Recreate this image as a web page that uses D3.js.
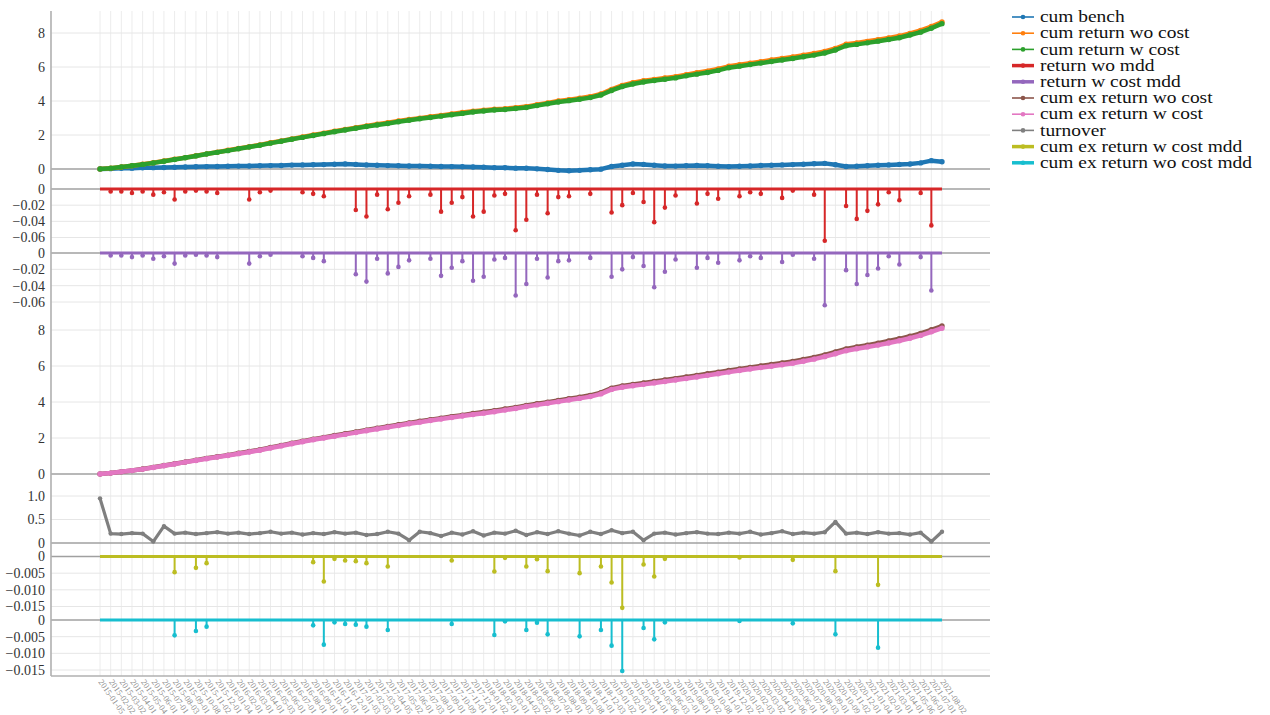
<!DOCTYPE html>
<html>
<head>
<meta charset="utf-8">
<script src="https://cdn.jsdelivr.net/npm/d3@7"></script>
<style>
  body { margin: 0; background: #fff; }
  text { font-family: "Liberation Serif", "DejaVu Serif", serif; }
</style>
</head>
<body>
<script>
const width = 1270;
const height = 715;

// x categories (one per grid line)
const dates = ("2015-01-05 2015-02-02 2015-03-02 2015-04-01 2015-05-04 2015-06-01 2015-07-01 2015-08-03 2015-09-01 2015-10-08 2015-11-02 2015-12-01 " +
  "2016-01-04 2016-02-01 2016-03-01 2016-04-01 2016-05-03 2016-06-01 2016-07-01 2016-08-01 2016-09-01 2016-10-10 2016-11-01 2016-12-01 " +
  "2017-01-03 2017-02-03 2017-03-01 2017-04-05 2017-05-02 2017-06-01 2017-07-03 2017-08-01 2017-09-01 2017-10-09 2017-11-01 2017-12-01 " +
  "2018-01-02 2018-02-01 2018-03-01 2018-04-02 2018-05-02 2018-06-01 2018-07-02 2018-08-01 2018-09-03 2018-10-08 2018-11-01 2018-12-03 " +
  "2019-01-02 2019-02-01 2019-03-01 2019-04-01 2019-05-06 2019-06-03 2019-07-01 2019-08-01 2019-09-02 2019-10-08 2019-11-01 2019-12-02 " +
  "2020-01-02 2020-02-03 2020-03-02 2020-04-01 2020-05-06 2020-06-01 2020-07-01 2020-08-03 2020-09-01 2020-10-09 2020-11-02 2020-12-01 " +
  "2021-01-04 2021-02-01 2021-03-01 2021-04-01 2021-05-06 2021-06-01 2021-07-01 2021-08-02").split(" ");

const cumBench = [0, 0.02, 0.04, 0.05, 0.07, 0.08, 0.09, 0.1, 0.12, 0.13,
  0.14, 0.15, 0.16, 0.17, 0.18, 0.19, 0.2, 0.21, 0.23, 0.24,
  0.25, 0.26, 0.28, 0.3, 0.27, 0.24, 0.22, 0.2, 0.19, 0.18,
  0.17, 0.16, 0.15, 0.14, 0.13, 0.12, 0.1, 0.08, 0.07, 0.05,
  0.04, 0.01, -0.03, -0.08, -0.1, -0.08, -0.04, -0.01, 0.15, 0.22,
  0.29, 0.27, 0.22, 0.18, 0.17, 0.19, 0.21, 0.19, 0.16, 0.14,
  0.16, 0.18, 0.21, 0.22, 0.24, 0.26, 0.28, 0.31, 0.33, 0.25,
  0.15, 0.16, 0.19, 0.22, 0.24, 0.27, 0.29, 0.36, 0.49, 0.43];

const cumReturnWoCost = [0, 0.05, 0.12, 0.19, 0.28, 0.37, 0.47, 0.57, 0.67, 0.78,
  0.89, 0.99, 1.1, 1.21, 1.31, 1.42, 1.54, 1.65, 1.77, 1.88,
  2.0, 2.11, 2.22, 2.32, 2.43, 2.53, 2.63, 2.72, 2.82, 2.91,
  2.99, 3.07, 3.15, 3.24, 3.32, 3.4, 3.46, 3.52, 3.55, 3.61,
  3.67, 3.78, 3.89, 4.0, 4.08, 4.16, 4.26, 4.41, 4.68, 4.92,
  5.07, 5.19, 5.27, 5.35, 5.43, 5.55, 5.66, 5.76, 5.88, 6.04,
  6.13, 6.22, 6.31, 6.41, 6.5, 6.59, 6.69, 6.79, 6.91, 7.09,
  7.34, 7.42, 7.51, 7.61, 7.71, 7.82, 7.98, 8.15, 8.38, 8.65];

const cumReturnWCost = [0, 0.05, 0.12, 0.19, 0.27, 0.36, 0.46, 0.56, 0.66, 0.77,
  0.88, 0.98, 1.08, 1.19, 1.29, 1.4, 1.52, 1.63, 1.75, 1.86,
  1.97, 2.08, 2.19, 2.29, 2.4, 2.5, 2.59, 2.68, 2.78, 2.87,
  2.95, 3.03, 3.11, 3.19, 3.27, 3.35, 3.41, 3.47, 3.5, 3.56,
  3.62, 3.73, 3.84, 3.94, 4.02, 4.1, 4.2, 4.35, 4.62, 4.85,
  5.0, 5.12, 5.2, 5.28, 5.36, 5.48, 5.58, 5.68, 5.8, 5.96,
  6.05, 6.14, 6.23, 6.32, 6.41, 6.5, 6.6, 6.7, 6.82, 7.0,
  7.25, 7.33, 7.42, 7.52, 7.62, 7.72, 7.88, 8.05, 8.28, 8.55];

const cumExReturnWoCost = [0, 0.05, 0.12, 0.19, 0.28, 0.37, 0.47, 0.57, 0.67, 0.77,
  0.87, 0.96, 1.05, 1.15, 1.25, 1.35, 1.47, 1.59, 1.71, 1.82,
  1.93, 2.03, 2.14, 2.24, 2.34, 2.44, 2.54, 2.64, 2.74, 2.84,
  2.93, 3.02, 3.1, 3.19, 3.27, 3.36, 3.44, 3.52, 3.61, 3.7,
  3.81, 3.9, 3.99, 4.08, 4.18, 4.27, 4.37, 4.52, 4.77, 4.89,
  4.98, 5.06, 5.14, 5.22, 5.3, 5.39, 5.48, 5.57, 5.66, 5.75,
  5.84, 5.92, 6.0, 6.09, 6.17, 6.25, 6.36, 6.48, 6.62, 6.78,
  6.95, 7.06, 7.16, 7.27, 7.39, 7.51, 7.65, 7.81, 8.01, 8.22];

const cumExReturnWCost = [0, 0.05, 0.12, 0.19, 0.27, 0.36, 0.46, 0.56, 0.66, 0.75,
  0.85, 0.94, 1.03, 1.13, 1.22, 1.32, 1.44, 1.56, 1.68, 1.79,
  1.9, 2.0, 2.1, 2.2, 2.3, 2.4, 2.5, 2.6, 2.69, 2.79,
  2.88, 2.97, 3.05, 3.14, 3.22, 3.3, 3.38, 3.46, 3.55, 3.64,
  3.75, 3.84, 3.93, 4.02, 4.11, 4.2, 4.3, 4.45, 4.7, 4.82,
  4.9, 4.98, 5.06, 5.14, 5.22, 5.3, 5.39, 5.48, 5.57, 5.66,
  5.75, 5.83, 5.91, 5.99, 6.07, 6.15, 6.26, 6.38, 6.52, 6.68,
  6.85, 6.96, 7.06, 7.16, 7.28, 7.4, 7.54, 7.7, 7.9, 8.1];

const turnover = [0.95, 0.2, 0.19, 0.21, 0.2, 0.03, 0.36, 0.2, 0.22, 0.19,
  0.21, 0.23, 0.2, 0.22, 0.19, 0.21, 0.24, 0.2, 0.22, 0.18,
  0.21, 0.19, 0.23, 0.2, 0.22, 0.17, 0.19, 0.24, 0.2, 0.06,
  0.24, 0.21, 0.15, 0.22, 0.18, 0.25, 0.16, 0.22, 0.2, 0.26,
  0.17, 0.23, 0.19, 0.25, 0.2, 0.16, 0.24, 0.19, 0.27, 0.21,
  0.24, 0.06, 0.2, 0.22, 0.18, 0.21, 0.23, 0.2, 0.19, 0.22,
  0.2, 0.24, 0.18, 0.21, 0.25, 0.19, 0.22, 0.2, 0.23, 0.45,
  0.2, 0.22, 0.19, 0.23, 0.2, 0.21, 0.18, 0.22, 0.03, 0.24];

// drawdown series: index into dates, value (zero everywhere else)
const returnWoMddIdx = [1, 2, 3, 4, 5, 6, 7, 8, 9, 10, 11, 14, 15, 16, 19, 20, 21, 24, 25, 26, 27, 28, 29, 31, 32, 33, 34, 35, 36, 37, 38, 39, 40, 41, 42, 43, 44, 46, 48, 49, 50, 51, 52, 53, 54, 56, 57, 58, 60, 61, 62, 64, 65, 67, 68, 70, 71, 72, 73, 74, 75, 77, 78];
const returnWoMddVal = [-0.003, -0.003, -0.005, -0.003, -0.007, -0.004, -0.013, -0.003, -0.002, -0.003, -0.005, -0.013, -0.004, -0.002, -0.004, -0.006, -0.009, -0.026, -0.034, -0.007, -0.025, -0.017, -0.009, -0.007, -0.028, -0.017, -0.01, -0.034, -0.028, -0.008, -0.006, -0.051, -0.038, -0.007, -0.03, -0.01, -0.009, -0.006, -0.029, -0.02, -0.005, -0.016, -0.041, -0.023, -0.008, -0.018, -0.006, -0.012, -0.009, -0.004, -0.006, -0.011, -0.002, -0.007, -0.064, -0.021, -0.037, -0.027, -0.019, -0.004, -0.014, -0.005, -0.045];

const returnWCostMddIdx = [1, 2, 3, 4, 5, 6, 7, 8, 9, 10, 11, 14, 15, 16, 19, 20, 21, 24, 25, 26, 27, 28, 29, 31, 32, 33, 34, 35, 36, 37, 38, 39, 40, 41, 42, 43, 44, 46, 48, 49, 50, 51, 52, 53, 54, 56, 57, 58, 60, 61, 62, 64, 65, 67, 68, 70, 71, 72, 73, 74, 75, 77, 78];
const returnWCostMddVal = [-0.003, -0.003, -0.005, -0.003, -0.007, -0.004, -0.013, -0.003, -0.002, -0.003, -0.005, -0.013, -0.004, -0.002, -0.004, -0.006, -0.01, -0.026, -0.035, -0.007, -0.025, -0.017, -0.009, -0.007, -0.028, -0.018, -0.01, -0.034, -0.029, -0.008, -0.006, -0.052, -0.038, -0.007, -0.03, -0.01, -0.009, -0.006, -0.029, -0.02, -0.005, -0.016, -0.042, -0.023, -0.008, -0.018, -0.006, -0.012, -0.009, -0.004, -0.006, -0.011, -0.002, -0.007, -0.064, -0.021, -0.038, -0.027, -0.019, -0.004, -0.014, -0.005, -0.046];

const cumExWCostMddIdx = [7, 9, 10, 20, 21, 22, 23, 24, 25, 27, 33, 37, 38, 40, 41, 42, 45, 47, 48, 49, 51, 52, 53, 60, 65, 69, 73];
const cumExWCostMddVal = [-0.0047, -0.0034, -0.002, -0.0017, -0.0075, -0.0007, -0.0012, -0.0014, -0.002, -0.003, -0.0012, -0.0045, -0.0004, -0.003, -0.0008, -0.0044, -0.005, -0.003, -0.0078, -0.0154, -0.0024, -0.006, -0.0007, -0.0003, -0.001, -0.0044, -0.0085];

const cumExWoCostMddIdx = [7, 9, 10, 20, 21, 22, 23, 24, 25, 27, 33, 37, 38, 40, 41, 42, 45, 47, 48, 49, 51, 52, 53, 60, 65, 69, 73];
const cumExWoCostMddVal = [-0.0046, -0.0033, -0.002, -0.0016, -0.0074, -0.0007, -0.0012, -0.0014, -0.002, -0.003, -0.0012, -0.0045, -0.0004, -0.003, -0.0008, -0.0043, -0.0049, -0.003, -0.0077, -0.0153, -0.0024, -0.0058, -0.0007, -0.0003, -0.001, -0.0043, -0.0083];

const legendNames = ["cum bench", "cum return wo cost", "cum return w cost", "return wo mdd", "return w cost mdd",
  "cum ex return wo cost", "cum ex return w cost", "turnover", "cum ex return w cost mdd", "cum ex return wo cost mdd"];
const colors = d3.schemeCategory10;

// layout
const axisX = 51;
const gridRight = 990;
const gridTop = 11;
const gridBottom = 676;

const svg = d3.select("body").append("svg")
  .attr("width", width)
  .attr("height", height)
  .attr("font-family", "'Liberation Serif', 'DejaVu Serif', serif");

const x = d3.scalePoint().domain(dates).range([100, 942]);

const fmt0 = (f) => (d) => d === 0 ? "0" : d3.format(f)(d);

const panels = [
  { domain: [0, 8], range: [169, 33], ticks: [0, 2, 4, 6, 8], fmt: fmt0("d") },
  { domain: [0, -0.06], range: [189, 237.5], ticks: [0, -0.02, -0.04, -0.06], fmt: fmt0(".2f") },
  { domain: [0, -0.06], range: [253, 302], ticks: [0, -0.02, -0.04, -0.06], fmt: fmt0(".2f") },
  { domain: [0, 8], range: [474, 330], ticks: [0, 2, 4, 6, 8], fmt: fmt0("d") },
  { domain: [0, 1], range: [543, 496], ticks: [0, 0.5, 1], fmt: fmt0(".1f") },
  { domain: [0, -0.015], range: [556.5, 606.5], ticks: [0, -0.005, -0.01, -0.015], fmt: fmt0(".3f") },
  { domain: [0, -0.015], range: [620, 670], ticks: [0, -0.005, -0.01, -0.015], fmt: fmt0(".3f") }
];
panels.forEach((p) => { p.y = d3.scaleLinear().domain(p.domain).range(p.range); });

// vertical grid
svg.append("g").selectAll("line")
  .data(dates)
  .join("line")
    .attr("x1", (d) => x(d)).attr("x2", (d) => x(d))
    .attr("y1", gridTop).attr("y2", gridBottom)
    .attr("stroke", "#ececec");

// horizontal grid, zero lines and tick labels per panel
panels.forEach((p) => {
  const g = svg.append("g");
  g.selectAll("line")
    .data(p.ticks)
    .join("line")
      .attr("x1", axisX).attr("x2", gridRight)
      .attr("y1", (d) => p.y(d)).attr("y2", (d) => p.y(d))
      .attr("stroke", (d) => d === 0 ? "#a0a0a0" : "#e6e6e6")
      .attr("stroke-width", (d) => d === 0 ? 1.6 : 1);
  g.selectAll("text")
    .data(p.ticks)
    .join("text")
      .attr("x", 45)
      .attr("y", (d) => p.y(d))
      .attr("dy", "0.35em")
      .attr("text-anchor", "end")
      .attr("font-size", 14)
      .attr("fill", "#333")
      .text(p.fmt);
});

// bottom line and y axis line
svg.append("line")
  .attr("x1", axisX).attr("x2", gridRight)
  .attr("y1", gridBottom).attr("y2", gridBottom)
  .attr("stroke", "#b0b0b0").attr("stroke-width", 1.6);
svg.append("line")
  .attr("x1", axisX).attr("x2", axisX)
  .attr("y1", gridTop).attr("y2", gridBottom)
  .attr("stroke", "#b0b0b0").attr("stroke-width", 1.6);

// x labels
svg.append("g").selectAll("text")
  .data(dates)
  .join("text")
    .attr("transform", (d) => `translate(${x(d) - 2},${gridBottom + 6}) rotate(55)`)
    .attr("font-size", 8.5)
    .attr("fill", "#8c8c8c")
    .text((d) => d);

function drawLine(panel, values, color, lw, r) {
  const y = panels[panel].y;
  const line = d3.line()
    .x((d, i) => x(dates[i]))
    .y((d) => y(d));
  svg.append("path")
    .datum(values)
    .attr("fill", "none")
    .attr("stroke", color)
    .attr("stroke-width", lw)
    .attr("stroke-linejoin", "round")
    .attr("d", line);
  svg.append("g").selectAll("circle")
    .data(values)
    .join("circle")
      .attr("cx", (d, i) => x(dates[i]))
      .attr("cy", (d) => y(d))
      .attr("r", r)
      .attr("fill", color);
}

function drawStems(panel, idx, val, color) {
  const y = panels[panel].y;
  const pts = idx.map((k, j) => ({ date: dates[k], value: val[j] }));
  svg.append("line")
    .attr("x1", x(dates[0])).attr("x2", x(dates[dates.length - 1]))
    .attr("y1", y(0)).attr("y2", y(0))
    .attr("stroke", color).attr("stroke-width", 3);
  const g = svg.append("g");
  g.selectAll("line")
    .data(pts)
    .join("line")
      .attr("x1", (d) => x(d.date)).attr("x2", (d) => x(d.date))
      .attr("y1", y(0)).attr("y2", (d) => y(d.value))
      .attr("stroke", color).attr("stroke-width", 2);
  g.selectAll("circle")
    .data(pts)
    .join("circle")
      .attr("cx", (d) => x(d.date))
      .attr("cy", (d) => y(d.value))
      .attr("r", 2.3)
      .attr("fill", color);
}

drawLine(0, cumBench, colors[0], 4.5, 2.7);
drawLine(0, cumReturnWoCost, colors[1], 4.5, 2.7);
drawLine(0, cumReturnWCost, colors[2], 4.5, 2.7);
drawStems(1, returnWoMddIdx, returnWoMddVal, colors[3]);
drawStems(2, returnWCostMddIdx, returnWCostMddVal, colors[4]);
drawLine(3, cumExReturnWoCost, colors[5], 4.5, 2.7);
drawLine(3, cumExReturnWCost, colors[6], 4.5, 2.7);
drawLine(4, turnover, colors[7], 3.2, 2.2);
drawStems(5, cumExWCostMddIdx, cumExWCostMddVal, colors[8]);
drawStems(6, cumExWoCostMddIdx, cumExWoCostMddVal, colors[9]);

// legend
const legend = svg.append("g").attr("transform", "translate(1012,17)");
const item = legend.selectAll("g")
  .data(legendNames)
  .join("g")
    .attr("transform", (d, i) => `translate(0,${i * 16.2})`);
item.append("line")
  .attr("x1", 0).attr("x2", 22)
  .attr("stroke", (d, i) => colors[i])
  .attr("stroke-width", (d, i) => [3, 4, 8, 9].includes(i) ? 3.5 : 1.6);
item.append("circle")
  .attr("cx", 11)
  .attr("r", 2.3)
  .attr("fill", (d, i) => colors[i]);
item.append("text")
  .attr("transform", "translate(28,0) scale(1.2,1)")
  .attr("dy", "0.32em")
  .attr("font-size", 16.2)
  .attr("fill", "#111")
  .text((d) => d);
</script>
</body>
</html>
